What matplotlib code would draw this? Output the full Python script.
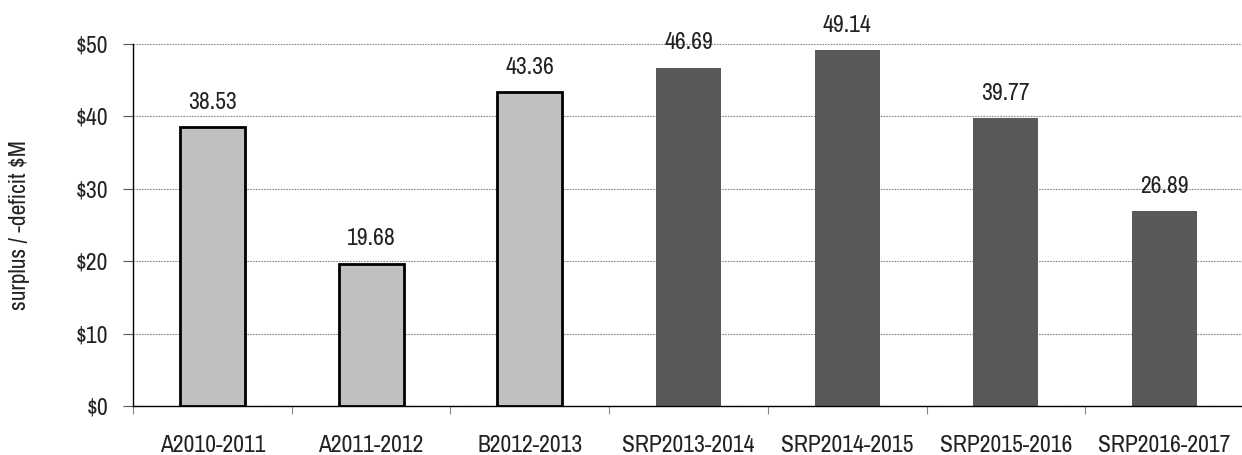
import matplotlib
matplotlib.use("Agg")
import matplotlib.pyplot as plt

categories = ["A2010-2011", "A2011-2012", "B2012-2013", "SRP2013-2014",
              "SRP2014-2015", "SRP2015-2016", "SRP2016-2017"]
values = [38.53, 19.68, 43.36, 46.69, 49.14, 39.77, 26.89]
actual = [True, True, True, False, False, False, False]
yticks = [0, 10, 20, 30, 40, 50]

plt.rcParams["font.family"] = ["Archivo Narrow", "Liberation Sans", "DejaVu Sans"]

fig = plt.figure(figsize=(12.42, 4.55), dpi=100)
ax = fig.add_axes([133 / 1242, 49 / 455, 1111 / 1242, 362 / 455])

x = list(range(len(categories)))
for i, v in enumerate(values):
    if actual[i]:
        ax.bar(i, v, width=0.41, color="#c0c0c0", edgecolor="black", linewidth=2, zorder=3)
    else:
        ax.bar(i, v, width=0.41, color="#595959", edgecolor="none", zorder=3)
    ax.annotate(f"{v:.2f}", (i, v), xytext=(0, 18), textcoords="offset points",
                ha="center", va="center", fontsize=17, color="#222222")

ax.set_xlim(-0.5, len(categories) - 0.5)
ax.set_ylim(0, 50)
ax.set_yticks(yticks)
ax.set_yticklabels([f"${t}" for t in yticks], fontsize=17, color="#222222")
ax.set_xticks(x)
ax.set_xticklabels(categories, fontsize=17, color="#222222")
ax.set_xticks([i - 0.5 for i in range(len(categories) + 1)], minor=True)
ax.tick_params(axis="x", which="major", length=0, pad=21)
ax.tick_params(axis="x", which="minor", length=6, direction="out", width=0.8, color="#888888")
ax.tick_params(axis="y", length=7, width=0.8, pad=11, color="#555555")

ax.grid(axis="y", linestyle=(0, (1.5, 1)), linewidth=0.8, color="#888888", zorder=0)
for s in ["top", "right"]:
    ax.spines[s].set_visible(False)
ax.spines["left"].set_linewidth(1.0)
ax.spines["bottom"].set_linewidth(1.0)
ax.spines["bottom"].set_zorder(4)
ax.set_ylabel("surplus / -deficit $M", fontsize=17, color="#222222", labelpad=33)

fig.savefig("out.png", dpi=100)
